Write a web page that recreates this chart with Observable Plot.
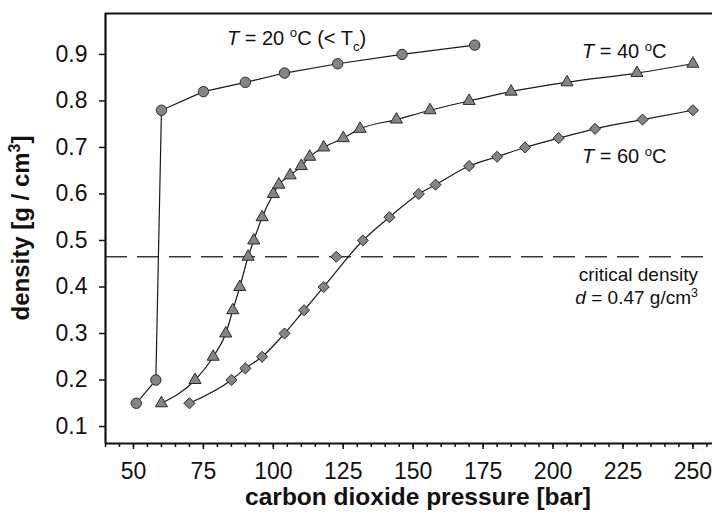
<!DOCTYPE html>
<html>
<head>
<meta charset="utf-8">
<script src="https://cdn.jsdelivr.net/npm/d3@7"></script>
<script src="https://cdn.jsdelivr.net/npm/@observablehq/plot@0.6"></script>
<style>
  html, body { margin: 0; padding: 0; background: #fff; }
  #chart svg { display: block; }
</style>
</head>
<body>
<div id="chart"></div>
<script>
// Pressure [bar] and density [g/cm3]
const p20 = [51, 58, 60, 75, 90, 104, 123, 146, 172];
const d20 = [0.15, 0.20, 0.78, 0.82, 0.84, 0.86, 0.88, 0.90, 0.92];

const p40 = [60, 72, 78.5, 83, 85.5, 88, 91, 93, 96, 100, 102, 106, 110, 113, 118, 125, 131, 144, 156, 170, 185, 205, 230, 250];
const d40 = [0.15, 0.20, 0.25, 0.30, 0.35, 0.40, 0.465, 0.50, 0.55, 0.60, 0.62, 0.64, 0.66, 0.68, 0.70, 0.72, 0.74, 0.76, 0.78, 0.80, 0.82, 0.84, 0.86, 0.88];

const p60 = [70, 85, 90, 96, 104, 111, 118, 132, 141.5, 152, 158, 170, 180, 190, 202, 215, 232, 250];
const d60 = [0.15, 0.20, 0.225, 0.25, 0.30, 0.35, 0.40, 0.50, 0.55, 0.60, 0.62, 0.66, 0.68, 0.70, 0.72, 0.74, 0.76, 0.78];
// 60 °C point measured at the critical density (marker only, off the fitted curve)
const p60crit = [122.5];
const d60crit = [0.465];

const criticalDensity = 0.465;
const xTicks = [50, 75, 100, 125, 150, 175, 200, 225, 250];
const xMinorTicks = d3.range(40, 256, 5);
const yTicks = [0.1, 0.2, 0.3, 0.4, 0.5, 0.6, 0.7, 0.8, 0.9];

const rows = (ps, ds) => ps.map((p, i) => ({p, d: ds[i]}));
const s20 = rows(p20, d20), s40 = rows(p40, d40), s60 = rows(p60, d60), s60c = rows(p60crit, d60crit);

const xDomain = [40, 257];
const yDomain = [0.0635, 0.988];

const markFill = "#858585", markStroke = "#2b2b2b", lineStroke = "#1a1a1a";
const font = "'Liberation Sans', Arial, sans-serif";

const plot = Plot.plot({
  width: 712,
  height: 526,
  marginTop: 13,
  marginLeft: 105,
  marginRight: 0,
  marginBottom: 83,
  style: {fontFamily: font, background: "#fff"},
  x: {domain: xDomain, label: null},
  y: {domain: yDomain, label: null},
  marks: [
    Plot.ruleY([criticalDensity], {stroke: "#3a3a3a", strokeWidth: 1.6, strokeDasharray: "22,10"}),
    Plot.line(s20, {x: "p", y: "d", curve: "linear", stroke: lineStroke, strokeWidth: 1.2}),
    Plot.line(s40, {x: "p", y: "d", curve: "monotone-x", stroke: lineStroke, strokeWidth: 1.2}),
    Plot.line(s60, {x: "p", y: "d", curve: "monotone-x", stroke: lineStroke, strokeWidth: 1.2}),
    Plot.dot(s20, {x: "p", y: "d", symbol: "circle", r: 5.2, fill: markFill, stroke: markStroke, strokeWidth: 1}),
    Plot.dot(s40, {x: "p", y: "d", symbol: "triangle", r: 4.5, fill: markFill, stroke: markStroke, strokeWidth: 1}),
    Plot.dot(s60, {x: "p", y: "d", symbol: "diamond2", r: 5, fill: markFill, stroke: markStroke, strokeWidth: 1}),
    Plot.dot(s60c, {x: "p", y: "d", symbol: "diamond2", r: 5, fill: markFill, stroke: markStroke, strokeWidth: 1}),
    // axes
    Plot.axisX(xMinorTicks, {tickSize: 4, text: null, label: null, stroke: "#111", strokeWidth: 1.5}),
    Plot.axisX(xTicks, {tickSize: 6, tickPadding: 13, fontSize: 23, stroke: "#111", strokeWidth: 1.5, fill: "#111", label: null}),
    Plot.axisY(yTicks, {tickSize: 6, tickPadding: 12, fontSize: 23, stroke: "#111", strokeWidth: 1.5, fill: "#111", label: null, tickFormat: d3.format(".1f")}),
    Plot.ruleY([yDomain[1]], {stroke: "#111", strokeWidth: 2.2}),
    Plot.ruleY([yDomain[0]], {stroke: "#111", strokeWidth: 2.2}),
    Plot.ruleX([xDomain[0]], {stroke: "#111", strokeWidth: 2.2})
  ]
});

document.getElementById("chart").appendChild(plot);

// Rich-text annotations placed through the plot's scales
const sx = plot.scale("x"), sy = plot.scale("y");
const svg = d3.select(plot);

function rich(x, y, parts, anchor, size) {
  const t = svg.append("text")
    .attr("x", x).attr("y", y)
    .attr("text-anchor", anchor)
    .attr("font-family", font)
    .attr("font-size", size)
    .attr("fill", "#111");
  for (const part of parts) {
    const ts = t.append("tspan").text(part.t);
    if (part.italic) ts.attr("font-style", "italic");
    if (part.bold) ts.attr("font-weight", "bold");
    if (part.sup) ts.attr("dy", -size * 0.38).attr("font-size", size * 0.66);
    if (part.sub) ts.attr("dy", size * 0.3).attr("font-size", size * 0.66);
    if (part.reset) ts.attr("dy", part.reset * size);
  }
  return t;
}

const tempAnnotations = [
  {p: 83.6, d: 0.919, anchor: "start", parts: [
    {t: "T", italic: true}, {t: " = 20 "}, {t: "o", sup: true}, {t: "C (< T", reset: 0.38}, {t: "c", sub: true}, {t: ")", reset: -0.3}
  ]},
  {p: 210.5, d: 0.891, anchor: "start", parts: [
    {t: "T", italic: true}, {t: " = 40 "}, {t: "o", sup: true}, {t: "C", reset: 0.38}
  ]},
  {p: 210.5, d: 0.665, anchor: "start", parts: [
    {t: "T", italic: true}, {t: " = 60 "}, {t: "o", sup: true}, {t: "C", reset: 0.38}
  ]}
];
const critAnnotations = [
  {p: 252, d: 0.412, anchor: "end", parts: [{t: "critical density"}]},
  {p: 252, d: 0.362, anchor: "end", parts: [
    {t: "d", italic: true}, {t: " = 0.47 g/cm"}, {t: "3", sup: true}
  ]}
];
for (const a of tempAnnotations) rich(sx.apply(a.p), sy.apply(a.d), a.parts, a.anchor, 20);
for (const a of critAnnotations) rich(sx.apply(a.p), sy.apply(a.d), a.parts, a.anchor, 19);

// Axis titles
rich(418, 505, [{t: "carbon dioxide pressure [bar]", bold: true}], "middle", 24.5);
const yt = rich(0, 0, [{t: "density [g / cm", bold: true}, {t: "3", bold: true, sup: true}, {t: "]", bold: true, reset: 0.38}], "middle", 24);
yt.attr("transform", `translate(29, ${(sy.apply(yDomain[0]) + sy.apply(yDomain[1])) / 2}) rotate(-90)`);
</script>
</body>
</html>
